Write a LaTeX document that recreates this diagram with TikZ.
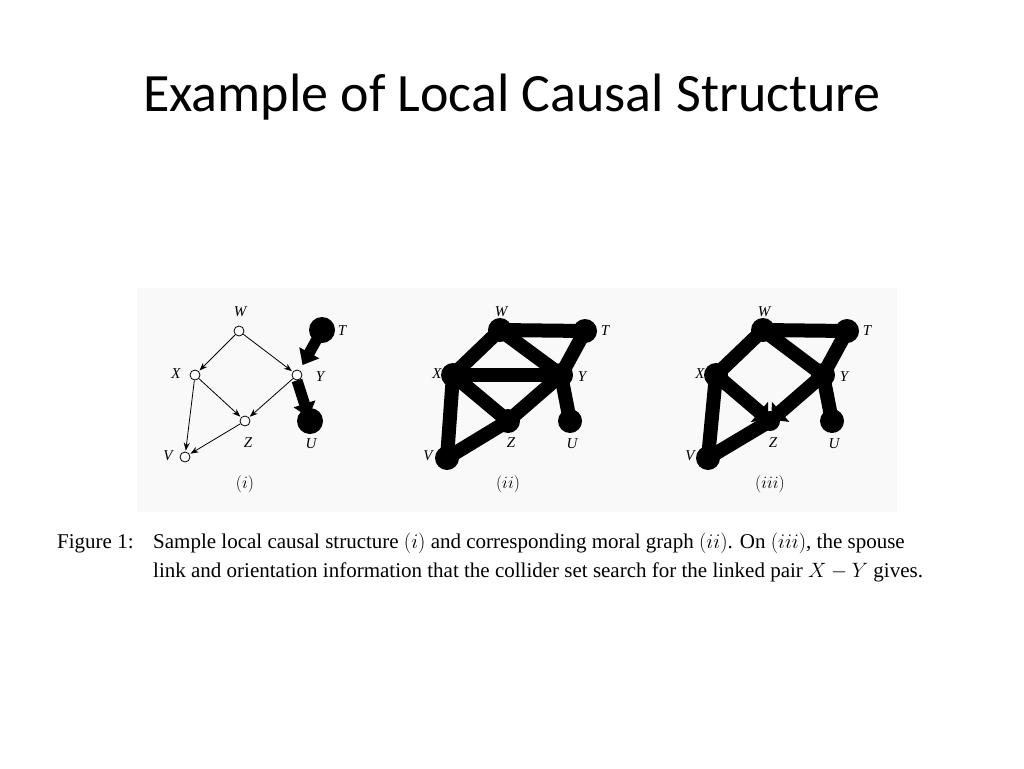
\documentclass[tikz,border=0pt]{standalone}
\usepackage{fontspec}
\setmainfont{Liberation Serif}
\newfontfamily\titlefont{Carlito}
\usetikzlibrary{arrows.meta}
\begin{document}
\begin{tikzpicture}[x=1pt,y=-1pt,
  sn/.style={circle,draw,fill=white,inner sep=0pt,minimum size=10pt,line width=0.8pt},
  bn/.style={circle,fill=black,inner sep=0pt,minimum size=26pt},
  lb/.style={font=\fontsize{15}{15}\selectfont\itshape},
  thin/.style={-{Stealth[length=8pt,width=6pt]},line width=0.8pt,shorten >=1pt},
  fat/.style={line width=14pt},
  fatarr/.style={line width=11pt,-{Triangle[length=14pt,width=22pt]},shorten >=6pt}]
\useasboundingbox (0,0) rectangle (1024,768);
\fill[white] (0,0) rectangle (1024,768);
\fill[gray!5] (137,288) rectangle (897,512);
\node[font=\titlefont\fontsize{54}{54}\selectfont] (title) at (512,97) {Example of Local Causal Structure};
% panel i
\node[sn] (W1) at (239,331) {};
\node[sn] (X1) at (195,375) {};
\node[sn] (Y1) at (297,375) {};
\node[sn] (Z1) at (245,421) {};
\node[sn] (V1) at (185,457) {};
\node[bn] (T1) at (322,330) {};
\node[bn] (U1) at (310,421) {};
\draw[thin] (W1) -- (X1); \draw[thin] (W1) -- (Y1);
\draw[thin] (X1) -- (Z1); \draw[thin] (Y1) -- (Z1);
\draw[thin] (X1) -- (V1); \draw[thin] (Z1) -- (V1);
\draw[fatarr] (T1.center) -- (Y1);
\draw[fatarr,shorten >=4pt] (Y1.south) -- (U1.center);
\node[lb] at (240,312) {W}; \node[lb] at (176,374) {X}; \node[lb] at (320,377) {Y};
\node[lb] at (248,443) {Z}; \node[lb] at (168,456) {V}; \node[lb] at (342,331) {T}; \node[lb] at (311,444) {U};
\node[font=\fontsize{16}{16}\selectfont] (c1) at (245,484) {$(i)$};
% panel ii
\foreach \n/\x/\y in {W/500/330,T/585/331,X/453/375,Y/561/375,Z/508/421,U/570/421,V/447/458}
  \node[bn,minimum size=24pt] (\n2) at (\x,\y) {};
\foreach \a/\b in {W/T,W/X,W/Y,X/Y,X/Z,Y/Z,X/V,V/Z,T/Y,Y/U}
  \draw[fat] (\a2.center) -- (\b2.center);
\node[lb] at (501,312) {W}; \node[lb] at (437,374) {X}; \node[lb] at (582,377) {Y};
\node[lb] at (511,443) {Z}; \node[lb] at (428,456) {V}; \node[lb] at (605,331) {T}; \node[lb] at (572,444) {U};
\node[font=\fontsize{16}{16}\selectfont] (c2) at (508,484) {$(ii)$};
% panel iii
\foreach \n/\x/\y in {W/763/330,T/847/331,X/716/375,Y/823/375,U/832/421,V/708/458}
  \node[bn,minimum size=24pt] (\n3) at (\x,\y) {};
\coordinate (Z3) at (770,421);
\fill (Z3) circle (10pt);
\foreach \a/\b in {W/T,W/X,W/Y,X/V,T/Y,Y/U}
  \draw[fat] (\a3.center) -- (\b3.center);
\draw[fat] (V3.center) -- (Z3);
\draw[line width=14pt,-{Triangle[length=12pt,width=26pt]},shorten >=2pt] (X3.center) -- (Z3);
\draw[line width=14pt,-{Triangle[length=12pt,width=26pt]},shorten >=2pt] (Y3.center) -- (Z3);
\node[lb] at (764,312) {W}; \node[lb] at (700,374) {X}; \node[lb] at (844,377) {Y};
\node[lb] at (773,443) {Z}; \node[lb] at (690,456) {V}; \node[lb] at (867,331) {T}; \node[lb] at (834,444) {U};
\node[font=\fontsize{16}{16}\selectfont] (c3) at (770,484) {$(iii)$};
% caption
\node[anchor=base west,font=\fontsize{21}{21}\selectfont,inner sep=0pt] (f1) at (57,548) {Figure 1:};
\node[anchor=base west,font=\fontsize{21}{21}\selectfont,inner sep=0pt] (l1) at (153,548) {Sample local causal structure $(i)$ and corresponding moral graph $(ii)$. On $(iii)$, the spouse};
\node[anchor=base west,font=\fontsize{21}{21}\selectfont,inner sep=0pt] (l2) at (153,577) {link and orientation information that the collider set search for the linked pair $X-Y$ gives.};
\end{tikzpicture}
\end{document}
